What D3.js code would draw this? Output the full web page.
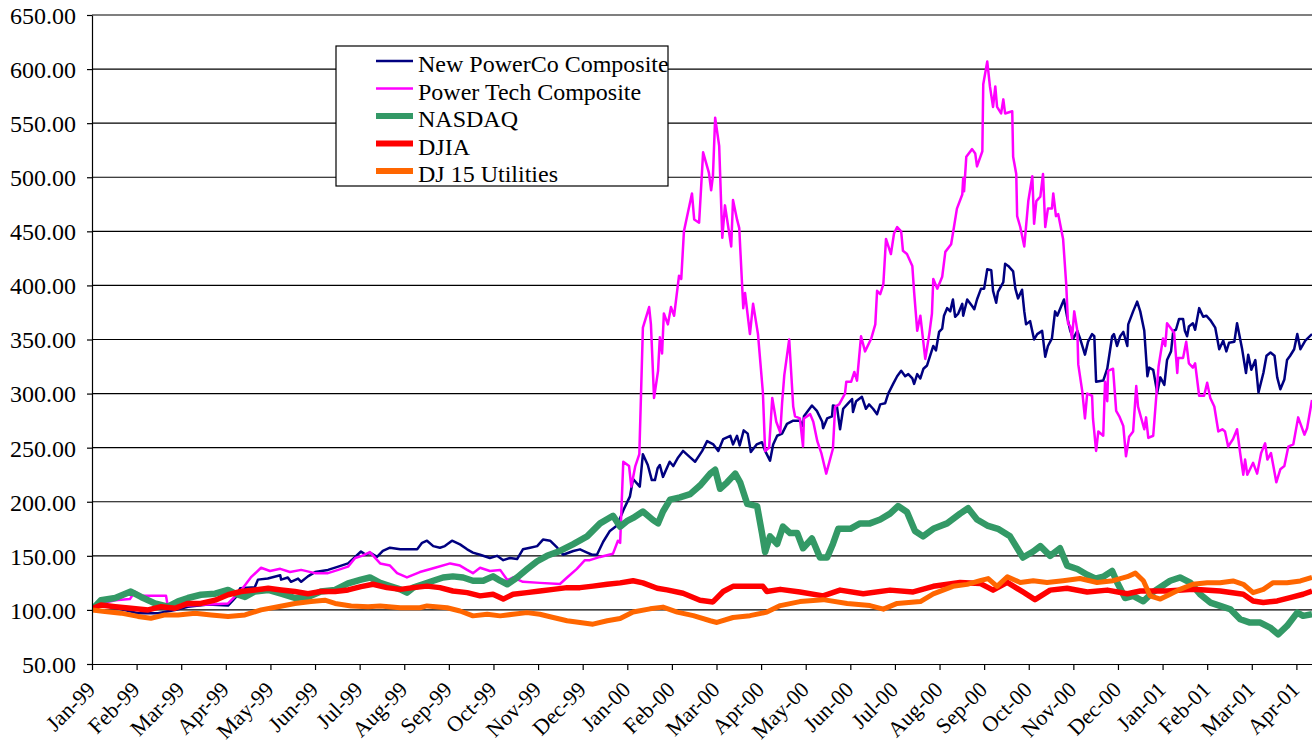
<!DOCTYPE html>
<html><head><meta charset="utf-8">
<script src="https://cdn.jsdelivr.net/npm/d3@7"></script>
<style>
html,body{margin:0;padding:0;background:#fff;}
svg{display:block;}
</style></head><body>
<svg id="chart" width="1312" height="746"></svg>
<script>
// ---- data (x = months since Jan-99, y = index value) ----
const monthLabels = ["Jan-99","Feb-99","Mar-99","Apr-99","May-99","Jun-99","Jul-99","Aug-99","Sep-99","Oct-99","Nov-99","Dec-99",
  "Jan-00","Feb-00","Mar-00","Apr-00","May-00","Jun-00","Jul-00","Aug-00","Sep-00","Oct-00","Nov-00","Dec-00",
  "Jan-01","Feb-01","Mar-01","Apr-01"];
const yTicks = [50,100,150,200,250,300,350,400,450,500,550,600,650];
const seriesNames = ["New PowerCo Composite","Power Tech Composite","NASDAQ","DJIA","DJ 15 Utilities"];
const seriesColors = ["#000080","#FF00FF","#339966","#FF0000","#FF6600"];

const powerCo = [[0,100],[0.20,104],[0.52,102],[1.03,97],[1.48,97],[1.86,100],[2.15,103],[2.60,105],[3.05,104],[3.23,112],[3.32,120],[3.65,121],[3.72,128],[3.94,129],[4.22,132],[4.24,128],[4.39,130],[4.46,126],[4.62,129],[4.69,126],[4.84,131],[5.00,135],[5.29,137],[5.52,140],[5.74,143],[5.90,149],[6.03,154],[6.14,151],[6.23,153],[6.39,149],[6.52,154.5],[6.68,157.5],[6.91,156],[7.13,156],[7.29,156],[7.40,162],[7.51,164],[7.65,159],[7.80,157.5],[7.91,159],[8.07,164],[8.25,160.6],[8.41,156],[8.54,153],[8.70,151],[8.92,148],[9.08,150],[9.22,146],[9.37,148],[9.53,147],[9.66,156],[9.82,157.5],[9.98,159],[10.11,165],[10.27,164],[10.43,157.5],[10.56,151],[10.79,154.5],[10.94,156],[11.10,153],[11.21,151],[11.32,151],[11.46,163],[11.61,173],[11.77,178],[11.91,192],[12.06,205],[12.13,221],[12.28,214],[12.35,244],[12.46,234],[12.55,220],[12.62,220],[12.68,231],[12.73,234],[12.80,223],[12.95,237],[13.03,233],[13.14,241],[13.25,247],[13.41,241],[13.52,237],[13.68,247],[13.79,256],[13.93,253],[14.04,247],[14.15,258],[14.31,261],[14.37,253],[14.46,261],[14.52,252],[14.61,266],[14.70,263],[14.77,246],[14.90,253],[15.02,255],[15.09,247],[15.20,238],[15.27,253],[15.36,261],[15.47,263],[15.58,272],[15.72,275],[15.87,275],[15.94,270],[15.96,279],[16.14,289],[16.25,284],[16.37,274],[16.39,268],[16.48,277],[16.59,279],[16.61,289],[16.70,288],[16.77,267],[16.84,286],[16.95,291],[17.04,295],[17.06,283],[17.13,293],[17.26,297],[17.35,286],[17.42,290],[17.51,286],[17.60,281],[17.67,290],[17.78,291],[17.85,300],[17.96,309],[18.05,316],[18.14,321],[18.23,316],[18.30,318],[18.39,314],[18.43,309],[18.50,318],[18.57,314],[18.64,323],[18.72,326],[18.86,344],[18.92,340],[18.99,357],[19.06,360],[19.10,372],[19.17,379],[19.24,376],[19.30,387],[19.35,371],[19.42,374],[19.51,383],[19.53,372],[19.62,387],[19.73,381],[19.78,378],[19.84,387],[19.93,397],[20.00,397],[20.07,415],[20.16,414],[20.20,395],[20.27,384],[20.31,394],[20.43,403],[20.47,420],[20.54,418],[20.65,413],[20.70,397],[20.76,388],[20.85,396],[20.90,376],[20.94,364],[21.03,367],[21.12,350],[21.19,355],[21.30,358],[21.37,334],[21.43,344],[21.52,351],[21.59,376],[21.64,372],[21.75,383],[21.79,387],[21.86,371],[21.93,358],[22.00,351],[22.09,358],[22.15,351],[22.26,336],[22.33,348],[22.42,355],[22.47,353],[22.51,311],[22.67,312],[22.76,323],[22.87,353],[22.91,355],[22.98,344],[23.05,353],[23.12,357],[23.21,344],[23.23,364],[23.34,376],[23.43,385],[23.50,376],[23.59,358],[23.66,316],[23.70,324],[23.79,322],[23.88,301],[23.95,315],[24.04,308],[24.10,331],[24.19,339],[24.24,358],[24.30,359],[24.37,369],[24.46,369],[24.50,358],[24.55,353],[24.59,362],[24.68,365],[24.73,359],[24.82,379],[24.91,371],[24.98,372],[25.07,368],[25.18,361],[25.27,341],[25.36,349],[25.43,339],[25.49,347],[25.61,348],[25.67,365],[25.78,342],[25.87,319],[25.92,336],[25.99,322],[26.08,331],[26.15,301],[26.26,319],[26.33,335],[26.42,338],[26.51,335],[26.57,315],[26.64,304],[26.73,313],[26.79,331],[26.86,335],[26.95,341],[27.02,355],[27.09,341],[27.20,349],[27.35,355]];

const powerTech = [[0,100],[0.20,106],[0.52,109],[0.85,110],[0.96,117],[1.12,113],[1.26,113],[1.66,113],[1.70,103],[2.15,104],[2.60,105],[3.05,106],[3.34,118],[3.56,130],[3.79,139],[3.99,136],[4.22,138],[4.44,135],[4.69,137],[5.00,134],[5.29,134],[5.52,137],[5.74,140],[5.90,148],[6.05,150],[6.23,153.5],[6.46,143],[6.68,141],[6.84,134],[7.06,130],[7.35,135],[7.69,139],[8.03,143],[8.25,141],[8.41,137],[8.54,134],[8.70,139],[8.92,136],[9.15,137],[9.31,127.6],[9.44,130],[9.66,126],[10.04,125],[10.49,124],[10.65,130],[10.87,138],[11.05,146],[11.16,146],[11.39,149],[11.68,152],[11.79,164],[11.84,162],[11.91,237],[12.04,233],[12.09,214],[12.18,233],[12.27,244],[12.35,361],[12.49,380],[12.53,364],[12.60,296],[12.69,321],[12.73,352],[12.78,337],[12.82,374],[12.91,364],[12.98,380],[13.05,372],[13.16,409],[13.21,406],[13.27,450],[13.45,485],[13.50,461],[13.61,458],[13.70,523],[13.83,504],[13.88,488],[13.92,501],[13.97,555],[14.06,529],[14.13,444],[14.19,474],[14.33,436],[14.37,479],[14.46,461],[14.51,453],[14.60,379],[14.64,393],[14.75,355],[14.82,383],[14.93,355],[15.04,301],[15.09,247],[15.18,250],[15.25,296],[15.34,274],[15.43,264],[15.47,291],[15.52,317],[15.63,350],[15.72,288],[15.76,279],[15.87,277],[15.94,251],[15.96,277],[16.10,281],[16.17,274],[16.26,256],[16.35,245],[16.46,226],[16.61,249],[16.66,288],[16.75,290],[16.88,300],[16.91,311],[17.02,311],[17.09,320],[17.15,312],[17.24,353],[17.33,339],[17.47,351],[17.56,364],[17.60,395],[17.67,392],[17.74,401],[17.80,443],[17.91,429],[17.98,448],[18.05,454],[18.14,450],[18.18,432],[18.27,429],[18.39,418],[18.43,394],[18.50,358],[18.57,372],[18.68,332],[18.77,355],[18.83,374],[18.86,406],[18.95,397],[19.06,408],[19.13,431],[19.26,438],[19.30,448],[19.39,471],[19.51,484],[19.53,499],[19.55,487],[19.60,519],[19.73,526],[19.80,522],[19.84,510],[19.96,524],[19.98,586],[20.07,607],[20.13,584],[20.20,565],[20.25,584],[20.29,565],[20.38,559],[20.43,572],[20.47,559],[20.63,561],[20.65,519],[20.72,503],[20.74,464],[20.81,454],[20.90,436],[20.99,478],[21.08,501],[21.12,457],[21.17,478],[21.26,482],[21.32,503],[21.37,454],[21.43,471],[21.52,471],[21.55,485],[21.61,464],[21.66,466],[21.77,443],[21.84,401],[21.88,365],[21.93,362],[21.97,351],[22.02,376],[22.09,358],[22.11,327],[22.20,302],[22.26,277],[22.31,300],[22.42,298],[22.44,277],[22.51,247],[22.56,265],[22.67,261],[22.71,311],[22.76,293],[22.78,321],[22.89,323],[22.96,284],[23.03,279],[23.12,270],[23.18,242],[23.25,260],[23.34,265],[23.41,307],[23.45,288],[23.59,267],[23.63,278],[23.68,259],[23.79,261],[23.86,298],[23.91,325],[24.01,351],[24.06,344],[24.10,365],[24.21,359],[24.26,356],[24.33,319],[24.35,333],[24.46,333],[24.53,348],[24.59,328],[24.68,324],[24.73,328],[24.82,298],[24.93,298],[25.00,310],[25.07,296],[25.16,288],[25.25,265],[25.34,267],[25.40,265],[25.47,251],[25.58,258],[25.67,267],[25.74,245],[25.81,225],[25.85,239],[25.90,225],[25.96,230],[26.03,236],[26.12,226],[26.21,245],[26.30,254],[26.35,239],[26.43,245],[26.48,234],[26.55,218],[26.64,230],[26.73,233],[26.82,251],[26.93,253],[27.04,278],[27.18,262],[27.24,268],[27.35,294]];

const nasdaq = [[0,100],[0.20,109],[0.52,111],[0.87,117],[1.10,112],[1.41,106],[1.70,103],[1.93,108],[2.15,111],[2.44,114],[2.76,115],[3.05,118.5],[3.21,115],[3.43,112],[3.65,117],[3.95,118.5],[4.24,115],[4.55,111],[4.84,112],[5.13,117],[5.45,118.5],[5.74,124.6],[6.03,128],[6.23,130],[6.46,125],[6.68,122],[6.91,119],[7.06,116],[7.20,120.6],[7.42,123.7],[7.65,127],[7.87,130],[8.09,131],[8.32,130],[8.54,127],[8.77,127],[8.99,131],[9.15,127],[9.31,123.7],[9.53,130],[9.75,137.5],[9.98,145],[10.20,150],[10.49,154.5],[10.78,160.6],[11.10,168],[11.39,180],[11.68,187],[11.84,177],[11.99,182],[12.13,185],[12.35,191],[12.58,183],[12.69,180],[12.80,191],[12.96,202],[13.18,204],[13.41,207],[13.63,215],[13.86,226],[13.97,229.6],[14.08,212],[14.24,218],[14.42,226],[14.53,218],[14.69,198],[14.91,196],[15.02,171],[15.09,153.6],[15.20,168],[15.36,161],[15.49,177],[15.65,171],[15.81,171],[15.94,157],[16.14,166],[16.32,148.4],[16.48,148.4],[16.61,161],[16.73,175],[17.00,175],[17.22,180],[17.44,180],[17.67,183.6],[17.89,189],[18.07,196],[18.27,190.6],[18.45,173],[18.63,168],[18.86,175],[19.17,180],[19.46,189],[19.64,194],[19.84,183.6],[20.07,178],[20.31,175],[20.58,168],[20.87,148.4],[21.10,154],[21.26,159],[21.48,150],[21.70,157],[21.86,141],[22.09,137.8],[22.31,132.5],[22.49,129],[22.67,130.7],[22.87,136],[22.98,125.5],[23.16,111],[23.34,113],[23.57,108],[23.79,116.6],[23.95,121],[24.17,127],[24.39,130],[24.62,125.2],[24.84,114.5],[25.07,106.8],[25.29,103.7],[25.52,100.6],[25.74,91.4],[25.96,88.3],[26.19,88.3],[26.41,83.7],[26.59,77.5],[26.79,85.2],[27.02,97.5],[27.15,94.5],[27.35,96]];

const djia = [[0,101],[0.20,104.6],[0.52,103],[0.87,101.5],[1.26,100],[1.55,103],[1.86,101.5],[2.15,106],[2.44,106],[2.76,109],[3.05,114],[3.34,117],[3.65,118.5],[3.95,120],[4.24,118.5],[4.55,117],[4.84,115],[5.13,117],[5.45,117],[5.74,118.5],[6.03,121.5],[6.30,123.7],[6.61,120.6],[6.91,119],[7.20,120.6],[7.51,122],[7.80,120.6],[8.09,117.5],[8.41,116],[8.70,113],[8.99,114.5],[9.22,110],[9.44,114.5],[9.75,116],[10.04,117.5],[10.34,119],[10.65,120.6],[10.94,120.6],[11.23,122],[11.55,123.7],[11.84,125],[12.13,127],[12.35,125],[12.67,120],[12.89,118.5],[13.25,115.4],[13.63,109],[13.92,107.4],[14.15,117],[14.37,121.8],[14.75,121.8],[15.04,121.8],[15.13,117],[15.43,119],[15.87,116.6],[16.39,113],[16.77,118.3],[17.29,115],[17.89,118.3],[18.41,116.6],[18.86,121.8],[19.46,125.4],[19.91,124.5],[20.20,118.3],[20.52,125.4],[20.87,116.6],[21.14,109.5],[21.48,118.3],[21.86,120],[22.31,116.6],[22.76,118.3],[23.21,115],[23.50,117.5],[24.10,117.5],[24.68,119],[25.29,117.5],[25.81,114.5],[26.03,108.3],[26.26,106.8],[26.57,108.3],[26.86,111.4],[27.15,114.5],[27.35,117.5]];

const utilities = [[0,100],[0.29,98.5],[0.65,97],[1.03,94],[1.32,92.3],[1.64,95.4],[1.93,95.4],[2.31,97],[2.67,95.4],[3.05,94],[3.43,95.4],[3.79,100],[4.17,103],[4.55,106],[4.91,107.7],[5.22,109],[5.45,106],[5.81,103.7],[6.19,103],[6.46,103.7],[6.91,102],[7.35,102],[7.51,103.7],[7.96,102],[8.25,99],[8.54,94.5],[8.86,96],[9.15,94.5],[9.44,96],[9.75,97.5],[10.04,96],[10.34,93],[10.65,90],[10.94,88.3],[11.23,86.8],[11.55,90],[11.84,92],[12.13,98],[12.51,101],[12.80,102.6],[13.12,98],[13.48,94.7],[13.86,90],[14.01,88.4],[14.37,93],[14.75,94.7],[15.13,98],[15.43,104],[15.87,107.7],[16.39,109.5],[16.93,106],[17.44,104],[17.74,100.7],[18.05,106],[18.57,107.7],[18.86,114.8],[19.30,121.8],[19.62,123.6],[19.91,127],[20.09,129],[20.29,121.8],[20.52,130.7],[20.81,125.4],[21.10,127],[21.41,125.4],[21.77,127],[22.15,129],[22.53,125.4],[22.89,127],[23.21,130.7],[23.39,134],[23.57,127],[23.72,113],[23.95,110],[24.17,114.5],[24.39,119],[24.68,123.7],[25.00,125.2],[25.29,125.2],[25.58,126.8],[25.81,123.7],[26.03,116],[26.26,119],[26.48,125.2],[26.79,125.2],[27.09,126.8],[27.35,130]];

const seriesData = [powerCo, powerTech, nasdaq, djia, utilities];
const seriesWidths = [2.5, 2.5, 6.5, 5.5, 5];
const FONT = '"Liberation Serif", "Times New Roman", "DejaVu Serif", serif';

// ---- drawing ----
const svg = d3.select("#chart");
const plotLeft = 92, plotRight = 1312, plotTop = 15, plotBottom = 664;
const x = d3.scaleLinear().domain([0, 27.35]).range([plotLeft, plotRight]);
const y = d3.scaleLinear().domain([50, 650]).range([plotBottom, plotTop]);

svg.append("rect").attr("width",1312).attr("height",746).attr("fill","#fff");

// gridlines
svg.append("g").selectAll("line").data(yTicks.filter(v => v > 50)).join("line")
  .attr("x1", plotLeft).attr("x2", plotRight)
  .attr("y1", d => y(d)).attr("y2", d => y(d))
  .attr("stroke", "#000").attr("stroke-width", 1.2);

svg.append("clipPath").attr("id","plotclip").append("rect")
  .attr("x", plotLeft).attr("y", plotTop - 5).attr("width", plotRight - plotLeft).attr("height", plotBottom - plotTop + 5);

const line = d3.line().x(d => x(d[0])).y(d => y(d[1]));
const lines = svg.append("g").attr("clip-path","url(#plotclip)");
seriesData.forEach((data, i) => {
  lines.append("path").datum(data)
    .attr("d", line)
    .attr("fill","none")
    .attr("stroke", seriesColors[i])
    .attr("stroke-width", seriesWidths[i])
    .attr("stroke-linejoin","round")
    .attr("stroke-linecap","butt");
});

// y axis
const yAxis = d3.axisLeft(y).tickValues(yTicks).tickFormat(d3.format(".2f"))
  .tickSize(5).tickSizeOuter(0).tickPadding(11);
const gy = svg.append("g").attr("transform", `translate(${plotLeft},0)`).call(yAxis)
  .attr("font-family", FONT).attr("font-size", 24);
gy.selectAll("text").style("font-family", FONT).style("font-size","24px").attr("fill","#000").attr("dy","0.35em");
gy.select(".domain").attr("stroke","#000").attr("stroke-width",1.2);
gy.selectAll(".tick line").attr("stroke","#000").attr("stroke-width",1.2);

// x axis
const xAxis = d3.axisBottom(x).tickValues(d3.range(monthLabels.length))
  .tickFormat(i => monthLabels[i]).tickSize(6).tickSizeOuter(0);
const gx = svg.append("g").attr("transform", `translate(0,${plotBottom})`).call(xAxis)
  .attr("font-family", FONT).attr("font-size", 22);
gx.select(".domain").attr("stroke","#000").attr("stroke-width",1.2);
gx.selectAll(".tick line").attr("stroke","#000").attr("stroke-width",1.2);
gx.selectAll("text")
  .style("font-family", FONT)
  .style("font-size","22px")
  .attr("fill","#000")
  .attr("text-anchor","end")
  .attr("x", 0).attr("y", 0).attr("dy", 0)
  .attr("transform","translate(4,27) rotate(-45)");

// legend
const lg = svg.append("g");
lg.append("rect").attr("x",336).attr("y",46).attr("width",332).attr("height",140)
  .attr("fill","#fff").attr("stroke","#000").attr("stroke-width",1.2);
seriesNames.forEach((name, i) => {
  const ly = 61 + i * 27.5;
  lg.append("line").attr("x1",376).attr("x2",413).attr("y1",ly).attr("y2",ly)
    .attr("stroke", seriesColors[i]).attr("stroke-width", i < 2 ? 2.5 : 6);
  lg.append("text").attr("x",418).attr("y",ly + 11)
    .style("font-family", FONT).style("font-size","24px").attr("fill","#000").text(name);
});
</script>
</body></html>
